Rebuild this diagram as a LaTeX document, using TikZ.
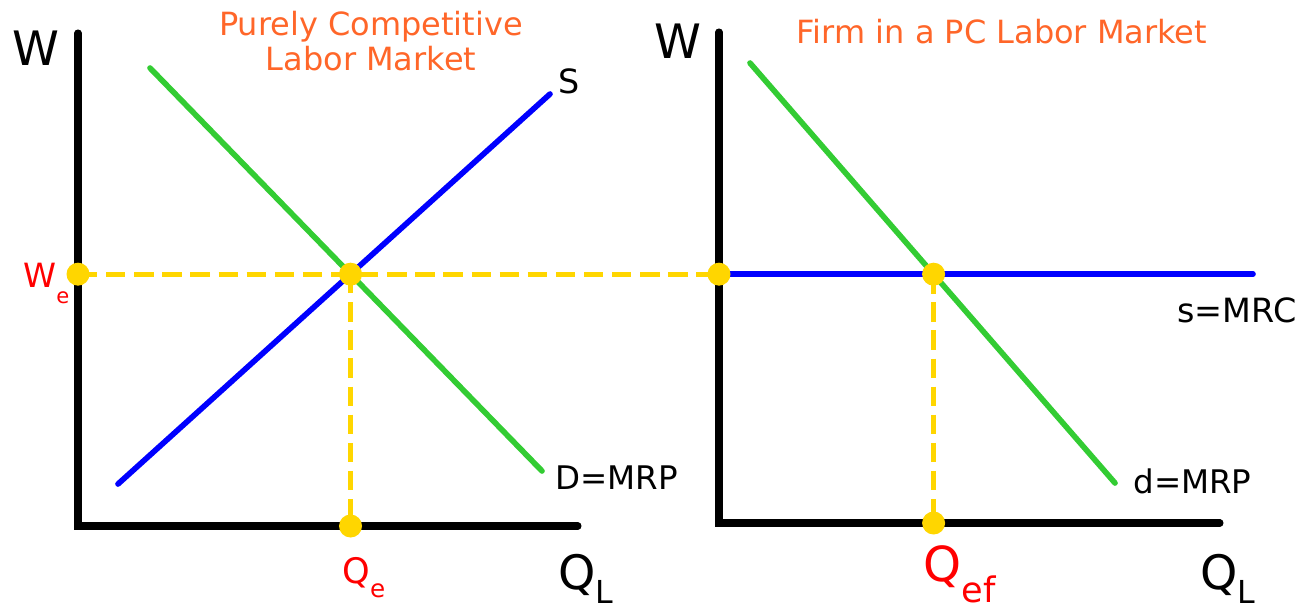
\documentclass[tikz,border=0pt]{standalone}
\usepackage{fontspec}
\setmainfont{DejaVu Sans}
\usetikzlibrary{positioning}
\definecolor{cAxis} {RGB}{  0,  0,  0}
\definecolor{cDem}  {RGB}{ 51,204, 51}
\definecolor{cSup}  {RGB}{  0,  0,255}
\definecolor{cEq}   {RGB}{255,214,  0}
\definecolor{cTitle}{RGB}{255,102, 41}
\definecolor{cVal}  {RGB}{255,  0,  0}
\newcommand{\lowsub}[3]{\raisebox{-#1}{\fontsize{#2}{#2}\selectfont #3}}

\begin{document}
\begin{tikzpicture}[
  x=0.02cm, y=-0.02cm,
  %% ── axes and curves ───────────────────────────────────────────────────
  AX/.style={draw=cAxis, line width=4pt, line cap=round},
  DM/.style={draw=cDem, line width=3.2pt, line cap=round},
  SP/.style={draw=cSup, line width=3.2pt, line cap=round},
  %% ── dashed guide and equilibrium dot ──────────────────────────────────
  G/.style={draw=cEq, line width=2.8pt, dash pattern=on 11pt off 5pt},
  P/.style={circle, fill=cEq, inner sep=0pt, minimum size=0.46cm},
  %% ── texts ─────────────────────────────────────────────────────────────
  L/.style={anchor=base west, inner sep=0pt, font=\fontsize{18.5}{20}\selectfont},
  T/.style={anchor=base, align=center, inner sep=0pt, text=cTitle,
            font=\fontsize{18.2}{19.8}\selectfont},
  V/.style={anchor=base west, inner sep=0pt, text=cVal},
]
\useasboundingbox (0,0) rectangle (1301,609);

%% ═══════════════════════════════════════════════════════════════════════
%%  LEFT GRAPH : purely competitive labor market
%% ═══════════════════════════════════════════════════════════════════════
\coordinate (O1) at (78,526);
\coordinate (Y1) at (78,33);
\coordinate (X1) at (578,526);
\coordinate (dTop) at (150,68);
\coordinate (dBot) at (542,471);
\coordinate (sBot) at (118,484);
\coordinate (sTop) at (550,94);
\coordinate (E)   at (intersection of dTop--dBot and sBot--sTop);

\draw[AX] (Y1) -- (O1) -- (X1);
\draw[DM] (dTop) -- (dBot);
\draw[SP] (sBot) -- (sTop);

%% ═══════════════════════════════════════════════════════════════════════
%%  RIGHT GRAPH : firm in a PC labor market
%% ═══════════════════════════════════════════════════════════════════════
\coordinate (O2) at (719,523);
\coordinate (Y2) at (719,32);
\coordinate (X2) at (1220,523);
\coordinate (fTop) at (750,63);
\coordinate (fBot) at (1115,483);
\coordinate (wL) at (E -| O2);
\coordinate (wR) at (1253,0 |- E);
\coordinate (Ef) at (intersection of fTop--fBot and wL--wR);

\draw[AX] (Y2) -- (O2) -- (X2);
\draw[DM] (fTop) -- (fBot);
\draw[SP] (wL) -- (wR);

%% ═══════════════════════════════════════════════════════════════════════
%%  EQUILIBRIUM GUIDES
%% ═══════════════════════════════════════════════════════════════════════
\coordinate (cW) at (E -| O1);
\coordinate (cQ) at (E |- O1);
\coordinate (cQ2) at (Ef |- O2);

\draw[G] (cW) -- (wL);
\draw[G] (E) -- (cQ);
\draw[G] (Ef) -- (cQ2);

\node[P] (pW)  at (cW) {};
\node[P] (pE)  at (E) {};
\node[P] (pQ)  at (cQ) {};
\node[P] (pW2) at (wL) {};
\node[P] (pE2) at (Ef) {};
\node[P] (pQ2) at (cQ2) {};

%% ═══════════════════════════════════════════════════════════════════════
%%  LABELS
%% ═══════════════════════════════════════════════════════════════════════
\node[T] (t1) at (371,70) {Purely Competitive\\Labor Market};
\node[T] (t2) at (1002,43) {Firm in a PC Labor Market};

\node[L, font=\fontsize{27}{27}\selectfont] (w1) at (12,65) {W};
\node[L, font=\fontsize{27}{27}\selectfont] (w2) at (654,58) {W};
\node[L, font=\fontsize{27}{27}\selectfont] (q1) at (558,589)
  {Q\lowsub{8pt}{18}{L}};
\node[L, font=\fontsize{27}{27}\selectfont] (q2) at (1200,589)
  {Q\lowsub{8pt}{18}{L}};

\node[L, font=\fontsize{19}{19}\selectfont] (sL) at (558,93) {S};
\node[L] (dL)  at (555,489) {D=MRP};
\node[L] (dL2) at (1133,493) {d=MRP};
\node[L, font=\fontsize{19}{19}\selectfont] (sL2) at (1177,322) {s=MRC};

\node[V, font=\fontsize{19}{19}\selectfont] (we) at (23,287)
  {W\lowsub{9.6pt}{12}{e}};
\node[V, font=\fontsize{20}{20}\selectfont] (qe) at (342,583)
  {Q\lowsub{8.5pt}{14}{e}};
\node[V, font=\fontsize{27.5}{27.5}\selectfont] (qef) at (923,581)
  {Q\lowsub{12pt}{20}{ef}};

\end{tikzpicture}
\end{document}
